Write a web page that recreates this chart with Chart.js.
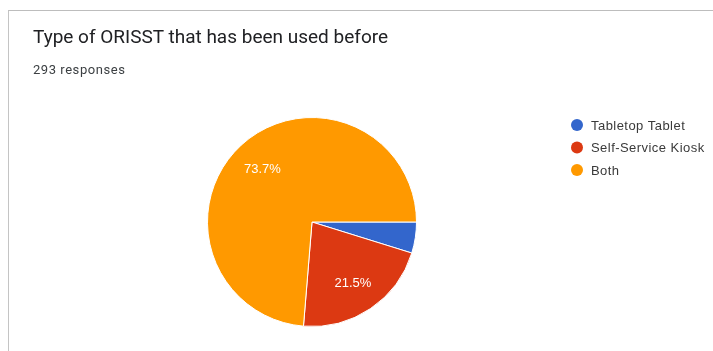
<!DOCTYPE html>
<html><head><meta charset="utf-8">
<script src="https://cdn.jsdelivr.net/npm/chart.js@4/dist/chart.umd.min.js"></script>
<style>
html,body{margin:0;padding:0;background:#fff;width:713px;height:351px;overflow:hidden;}
#card{position:absolute;left:8px;top:10px;width:705px;height:341px;border-top:1px solid #bdbdbd;border-left:1px solid #c4c4c4;box-sizing:border-box;}
#title{position:absolute;left:33px;top:25px;font-family:Roboto,"Noto Sans",sans-serif;font-size:19px;color:#202124;white-space:nowrap;}
#sub{position:absolute;left:33px;top:62px;font-family:Roboto,"Noto Sans",sans-serif;font-size:13px;letter-spacing:0.55px;color:#3c4043;white-space:nowrap;}
#wrap{position:absolute;left:0;top:0;width:713px;height:351px;}
</style></head><body>
<div id="card"></div>
<div id="wrap"><canvas id="c" width="713" height="351"></canvas></div>
<div id="title">Type of ORISST that has been used before</div>
<div id="sub">293 responses</div>
<script>
const categories = ["Tabletop Tablet", "Self-Service Kiosk", "Both"];
const values = [4.8, 21.5, 73.7];
const colors = ["#3366cc", "#dc3912", "#ff9900"];
const labelText = ["", "21.5%", "73.7%"];

const sliceLabels = {
  id: 'sliceLabels',
  afterDatasetsDraw(chart) {
    const ctx = chart.ctx;
    const meta = chart.getDatasetMeta(0);
    ctx.save();
    ctx.fillStyle = '#ffffff';
    ctx.font = '13px "Liberation Sans", Arial, sans-serif';
    ctx.textAlign = 'center';
    ctx.textBaseline = 'middle';
    meta.data.forEach((arc, i) => {
      if (!labelText[i]) return;
      const p = arc.getProps(['x','y','startAngle','endAngle','outerRadius'], true);
      const mid = (p.startAngle + p.endAngle) / 2;
      const r = p.outerRadius * 0.7;
      ctx.fillText(labelText[i], p.x + Math.cos(mid) * r, p.y + Math.sin(mid) * r + 1);
    });
    ctx.restore();
  }
};

const sideLegend = {
  id: 'sideLegend',
  afterDraw(chart) {
    const ctx = chart.ctx;
    const ys = [125, 147.5, 170];
    ctx.save();
    ctx.font = '13px "Liberation Sans", Arial, sans-serif';
    if ('letterSpacing' in ctx) ctx.letterSpacing = '0.45px';
    ctx.textBaseline = 'middle';
    ctx.textAlign = 'left';
    chart.data.labels.forEach((lab, i) => {
      ctx.fillStyle = chart.data.datasets[0].backgroundColor[i];
      ctx.beginPath();
      ctx.arc(577, ys[i], 6, 0, Math.PI * 2);
      ctx.fill();
      ctx.fillStyle = '#3a3a3a';
      ctx.fillText(lab, 591, ys[i] + 1);
    });
    ctx.restore();
  }
};

new Chart(document.getElementById('c'), {
  type: 'pie',
  data: {
    labels: categories,
    datasets: [{
      data: values,
      backgroundColor: colors,
      borderColor: '#ffffff',
      borderWidth: 1
    }]
  },
  options: {
    responsive: false,
    animation: false,
    rotation: 90,
    layout: { padding: { left: 207, right: 296, top: 117, bottom: 24 } },
    plugins: { legend: { display: false }, tooltip: { enabled: false } }
  },
  plugins: [sliceLabels, sideLegend]
});
</script>
</body></html>
